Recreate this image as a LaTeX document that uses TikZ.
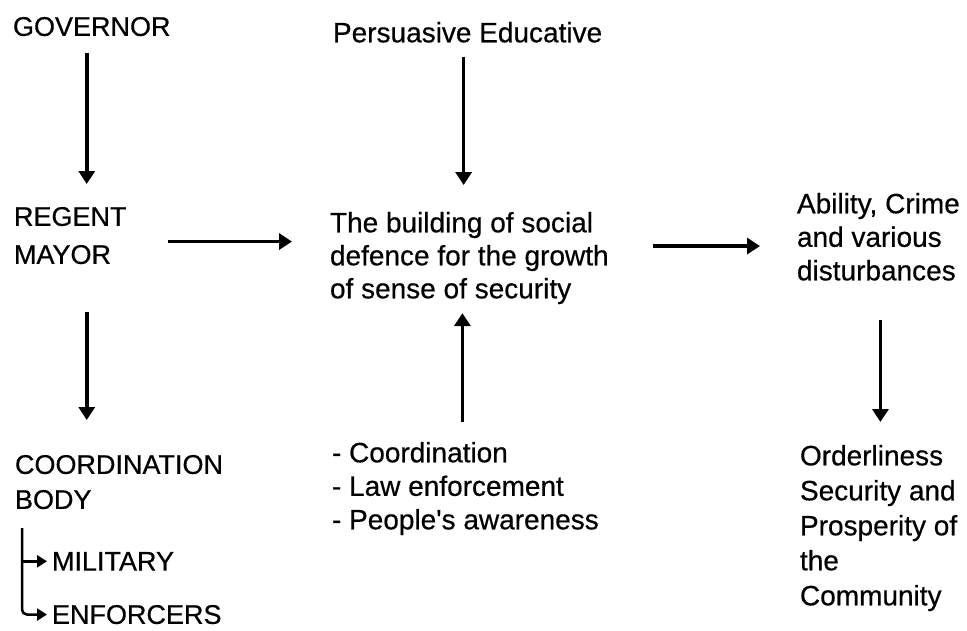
\documentclass[tikz,border=0pt]{standalone}
\usepackage{fontspec}
\setmainfont{Liberation Sans}[FakeBold=0.5]
\usetikzlibrary{arrows.meta}

\begin{document}
\begin{tikzpicture}[x=1pt, y=-1pt,
		txt/.style={anchor=north west, inner sep=0pt, outer sep=0pt, align=left, font=\fontsize{28}{34}\selectfont},
		caps/.style={txt, font=\fontsize{27}{#1}\selectfont},
		flow/.style={line width=3.5pt, -{Triangle[length=13pt,width=16pt]}},
		branch/.style={line width=2.5pt, rounded corners=5pt, -{Triangle[length=10pt,width=12pt]}}]
		\useasboundingbox (0,0) rectangle (967,630);
		% left column
		\node[caps=34] (gov) at (13,17) {GOVERNOR};
		\node[caps=38] (regent) at (14,207) {REGENT\\MAYOR};
		\node[caps=35] (coord) at (15,455) {COORDINATION\\BODY};
		\node[caps=34] (mil) at (52,552) {MILITARY};
		\node[caps=34] (enf) at (52,605) {ENFORCERS};
		% middle column
		\node[txt] (persu) at (333,22) {Persuasive Educative};
		\node[txt, font=\fontsize{28}{33}\selectfont] (build) at (330,212) {The building of social\\defence for the growth\\of sense of security};
		\node[txt, font=\fontsize{28}{33.5}\selectfont] (means) at (332,442) {- Coordination\\- Law enforcement\\- People\textquotesingle s awareness};
		% right column
		\node[txt, font=\fontsize{28}{33.5}\selectfont] (ability) at (797,193) {Ability, Crime\\and various\\disturbances};
		\node[txt, font=\fontsize{28}{35}\selectfont] (order) at (800,445) {Orderliness\\Security and\\Prosperity of\\the\\Community};
		% arrows
		\draw[flow, shorten <=17pt, shorten >=23pt] ([xshift=-5pt]gov.south) -- ([xshift=-5pt]gov.south |- regent.north);
		\draw[flow, shorten <=48pt, shorten >=35pt] ([xshift=-5pt]gov.south |- regent.south) -- ([xshift=-5pt]gov.south |- coord.north);
		\draw[flow, shorten <=41pt, shorten >=38pt] ([yshift=-6pt]regent.east) -- ([yshift=-6pt]regent.east -| build.west);
		\draw[flow, shorten <=14pt, shorten >=27pt] ([xshift=-4pt]persu.south) -- ([xshift=-4pt]persu.south |- build.north);
		\draw[flow, shorten <=20pt, shorten >=9pt] ([xshift=-3pt]means.north) -- ([xshift=-3pt]means.north |- build.south);
		\draw[flow, shorten <=44pt, shorten >=37pt] ([yshift=12pt]build.east) -- ([yshift=12pt]build.east -| ability.west);
		\draw[flow, shorten <=39pt, shorten >=23pt] ([xshift=2pt]ability.south) -- ([xshift=2pt]ability.south |- order.north);
		% branches of the coordination body
		\coordinate (split) at ([xshift=7pt, yshift=-19pt]coord.south west);
		\draw[branch, shorten >=5pt] (split) |- (enf.west);
		\draw[branch, shorten >=5pt] (split |- mil.west) -- (mil.west);
	\end{tikzpicture}
\end{document}
